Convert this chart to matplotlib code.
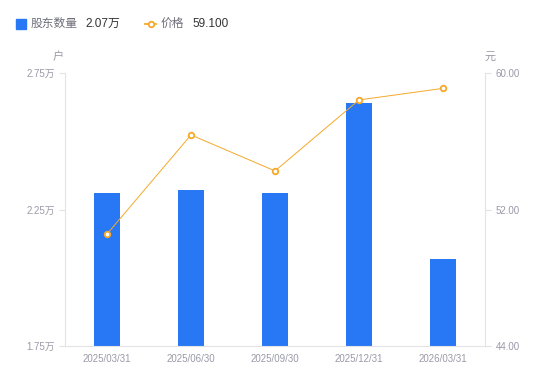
import matplotlib
matplotlib.use("Agg")
import matplotlib.pyplot as plt

plt.rcParams['font.family'] = ['Liberation Sans', 'Noto Sans CJK SC', 'DejaVu Sans']

dates = ["2025/03/31", "2025/06/30", "2025/09/30", "2025/12/31", "2026/03/31"]
holders = [2.31, 2.32, 2.31, 2.64, 2.07]   # 万户
price = [50.56, 56.37, 54.26, 58.42, 59.10]  # 元
left_ticks = [1.75, 2.25, 2.75]
right_ticks = [44.0, 52.0, 60.0]

bar_color = "#2878F5"
line_color = "#F5A82A"
grid_color = "#E3E3E6"
label_color = "#9A9AA8"

fig = plt.figure(figsize=(5.5, 3.81), dpi=100)
ax = fig.add_axes([65 / 550, 1 - 346 / 381, 420 / 550, 273 / 381])
x = list(range(len(dates)))
ax.bar(x, holders, width=0.3, color=bar_color, zorder=2)
ax.set_ylim(1.75, 2.75)
ax.set_xlim(-0.5, len(dates) - 0.5)
ax.set_yticks(left_ticks)
ax.set_yticklabels([f"{v:.2f}万" for v in left_ticks])
ax.set_xticks(x)
ax.set_xticklabels(dates)

ax2 = ax.twinx()
ax2.plot(x, price, color=line_color, lw=0.7, marker="o", ms=4,
         mfc="white", mec=line_color, mew=1.3, zorder=3)
ax2.set_ylim(44, 60)
ax2.set_yticks(right_ticks)
ax2.set_yticklabels([f"{v:.2f}" for v in right_ticks])

for a in (ax, ax2):
    for s in a.spines.values():
        s.set_visible(False)
    a.tick_params(colors=label_color, labelsize=7, length=4, width=0.8)
    a.tick_params(axis="y", color=grid_color)
ax.spines['left'].set_visible(True)
ax.spines['left'].set_color(grid_color)
ax.spines['bottom'].set_visible(True)
ax.spines['bottom'].set_color(grid_color)
ax2.spines['right'].set_visible(True)
ax2.spines['right'].set_color(grid_color)
ax.tick_params(axis="x", length=0, pad=6)

fig.text(58 / 550, 1 - 57 / 381, "户", color=label_color, fontsize=8, ha="center", va="center")
fig.text(490 / 550, 1 - 57 / 381, "元", color=label_color, fontsize=8, ha="center", va="center")

# legend row
fig.patches.append(plt.Rectangle((16 / 550, 1 - 29 / 381), 10 / 550, 10 / 381,
                                 transform=fig.transFigure, color=bar_color))
fig.text(31 / 550, 1 - 24 / 381, "股东数量", color="#6E6E7A", fontsize=8.5, va="center")
fig.text(85 / 550, 1 - 24 / 381, "2.07万", color="#333333", fontsize=8.5, va="center")
fig.lines.append(plt.Line2D([145 / 550, 156 / 550], [1 - 24 / 381, 1 - 24 / 381],
                            transform=fig.transFigure, color=line_color, lw=1.3))
fig.lines.append(plt.Line2D([150.5 / 550], [1 - 24 / 381], transform=fig.transFigure,
                            marker="o", ms=4, mfc="white", mec=line_color, mew=1.3))
fig.text(161 / 550, 1 - 24 / 381, "价格", color="#6E6E7A", fontsize=8.5, va="center")
fig.text(192 / 550, 1 - 24 / 381, "59.100", color="#333333", fontsize=8.5, va="center")

fig.savefig("out.png", dpi=100)
